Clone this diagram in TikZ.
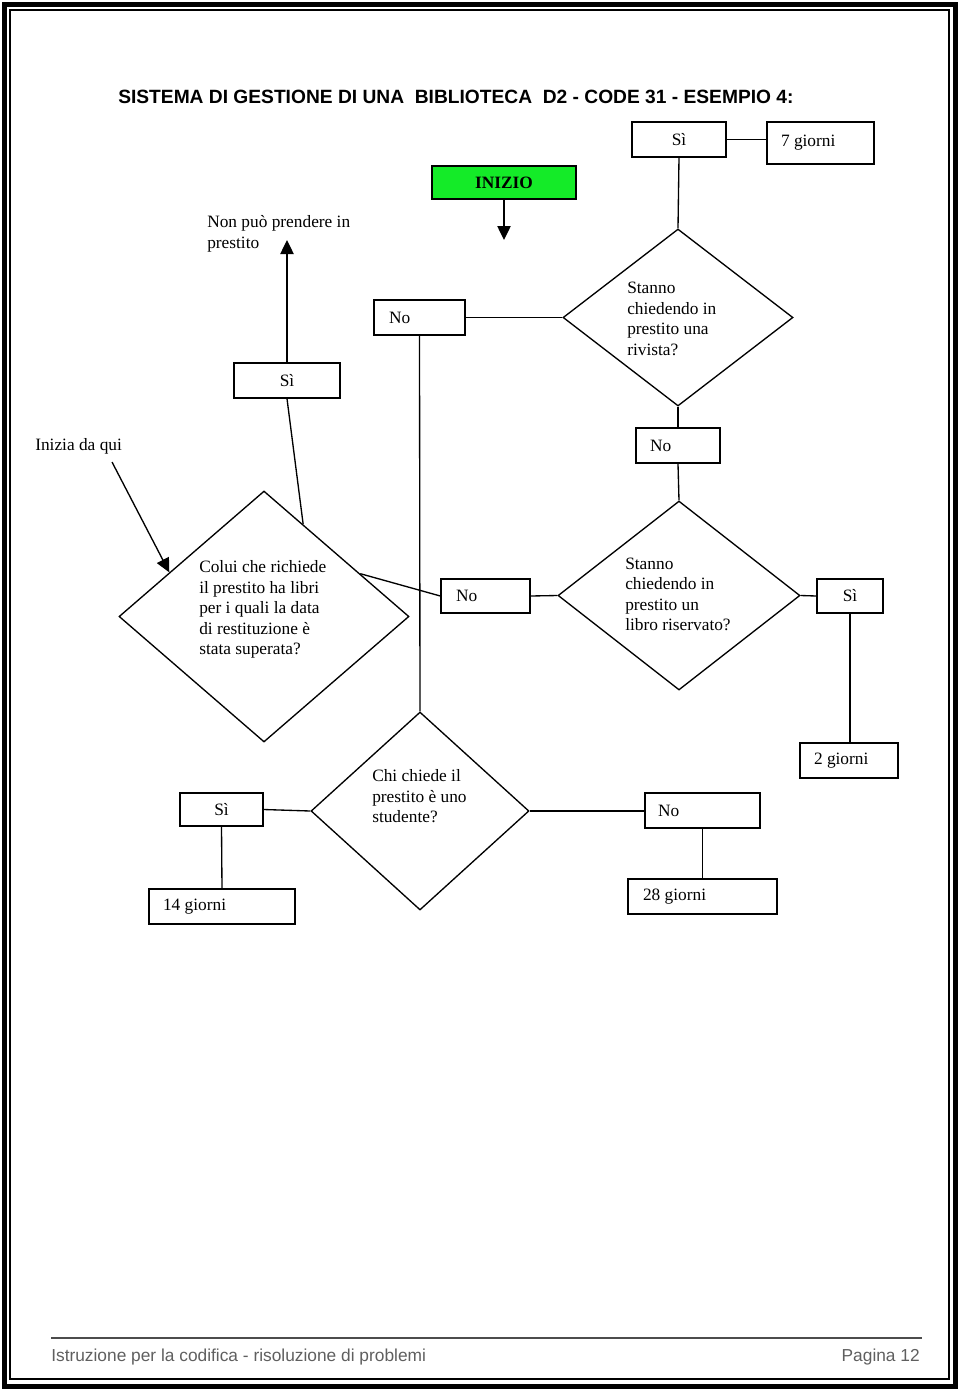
\documentclass[tikz,border=0pt]{standalone}
\usepackage{fontspec}
\setmainfont{Liberation Serif}
\newfontfamily\arialfont{Liberation Sans}
\usetikzlibrary{shapes.geometric,arrows.meta,calc}
\newdimen\pxu \pxu=0.75pt
\newcommand\ltxt[2]{\hbox to #1\pxu{#2\hfil}}
\definecolor{startgreen}{RGB}{20,235,40}
\definecolor{footgray}{RGB}{95,95,95}
\begin{document}
\begin{tikzpicture}[x=0.75pt,y=-0.75pt,
  every node/.style={inner sep=0pt, font=\fontsize{13}{15.4}\selectfont},
  conn/.style={line width=1pt},
  arr/.style={line width=1pt,-{Triangle[length=10.5pt,width=10pt]}},
  cbox/.style 2 args={draw, line width=1pt, rectangle, minimum width=#1\pxu, minimum height=#2\pxu},
  dia/.style 2 args={draw, line width=1pt, diamond, aspect=1, minimum width=#1\pxu, minimum height=#2\pxu},
  dtext/.style={anchor=west, align=left}
]
\useasboundingbox (0,0) rectangle (960,1390);
% page border
\draw[line width=3.75pt] (4,4) rectangle (955,1386);
\draw[line width=0.9pt] (10,10) rectangle (949,1379);

% title
\node[anchor=west, font=\arialfont\bfseries\fontsize{14.4}{17}\selectfont] (title) at (118,97)
  {SISTEMA DI GESTIONE DI UNA\ \ BIBLIOTECA\ \ D2 - CODE 31 - ESEMPIO 4:};

% nodes
\node[cbox={94}{35}] (siT) at (679,139.5) {Sì};
\node[cbox={107}{42}] (g7) at (820.5,143) {\ltxt{79}{7 giorni}};
\node[cbox={144}{33}, fill=startgreen, font=\fontsize{13}{15.4}\selectfont\bfseries] (start) at (504,182.5) {INIZIO};
\coordinate (startTip) at (504,240);

\node[dtext] (npp) at (207,234) {Non può prendere in\\prestito};
\coordinate (nppTip) at (289,240);

\node[cbox={91}{35}] (noA) at (419.5,317.5) {\ltxt{61}{No}};
\node[dia={230}{177}] (d1) at (678,317.5) {};
\node[dtext] (d1t) at (627,319) {Stanno\\chiedendo in\\prestito una\\rivista?};

\node[cbox={106}{35}] (siA) at (287,380.5) {Sì};
\node[cbox={84}{35}] (noB) at (678,445.5) {\ltxt{56}{No}};

\node[anchor=west] (iz) at (35,446.5) {Inizia da qui};
\coordinate (izStart) at (112,462);

\node[dia={290}{251}] (d2) at (264,616.5) {};
\node[dtext] (d2t) at (199,609.5) {Colui che richiede\\il prestito ha libri\\per i quali la data\\di restituzione è\\stata superata?};

\node[cbox={89}{34}] (noC) at (485.5,596) {\ltxt{59}{No}};
\node[dia={242}{189}] (d4) at (679,595.5) {};
\node[dtext] (d4t) at (625,594.5) {Stanno\\chiedendo in\\prestito un\\libro riservato?};
\node[cbox={66}{34}] (siC) at (850,596) {Sì};

\node[cbox={98}{35}] (g2) at (849,760.5) {\ltxt{70}{2 giorni}};

\node[dia={218}{198}] (d3) at (420,811) {};
\node[dtext] (d3t) at (372,796.5) {Chi chiede il\\prestito è uno\\studente?};
\node[cbox={83}{33}] (siD) at (221.5,809.5) {Sì};
\node[cbox={115}{35}] (noD) at (702.5,810.5) {\ltxt{89}{No}};
\node[cbox={146}{35}] (g14) at (222,906.5) {\ltxt{118}{14 giorni}};
\node[cbox={149}{35}] (g28) at (702.5,896.5) {\ltxt{119}{28 giorni}};

% connectors
\draw[conn] (siT.east) -- (siT.east -| g7.west);
\draw[arr] (start.south) -- (startTip);
\draw[conn] (siT.south) -- (d1.north);
\draw[conn] (noA.east) -- (d1.west);
\draw[conn] (noA.south) -- (d3.north);
\draw[arr] (siA.north) -- (siA.north |- nppTip);
\draw[conn] (siA.south) -- (d2.67);
\draw[arr] (izStart) -- (d2.155);
\draw[conn] (d2.24) -- (noC.west);
\draw[conn] (noC.east) -- (d4.west);
\draw[conn] (d1.south) -- (noB.north);
\draw[conn] (noB.south) -- (d4.north);
\draw[conn] (d4.east) -- (siC.west);
\draw[conn] (siC.south) -- (siC.south |- g2.north);
\draw[conn] (siD.east) -- (d3.west);
\draw[conn] (siD.south) -- (g14.north);
\draw[conn] (d3.east) -- (d3.east -| noD.west);
\draw[conn] (noD.south) -- (g28.north);

% footer
\coordinate (fl) at (51,1338);
\coordinate (fr) at (922,1338);
\draw[black!70, line width=0.9pt] (fl) -- (fr);
\node[anchor=west, text=footgray, font=\arialfont\fontsize{13}{15}\selectfont] (ft) at (51,1357) {Istruzione per la codifica - risoluzione di problemi};
\node[anchor=east, text=footgray, font=\arialfont\fontsize{13}{15}\selectfont] (pg) at (920,1357) {Pagina 12};
\end{tikzpicture}
\end{document}
